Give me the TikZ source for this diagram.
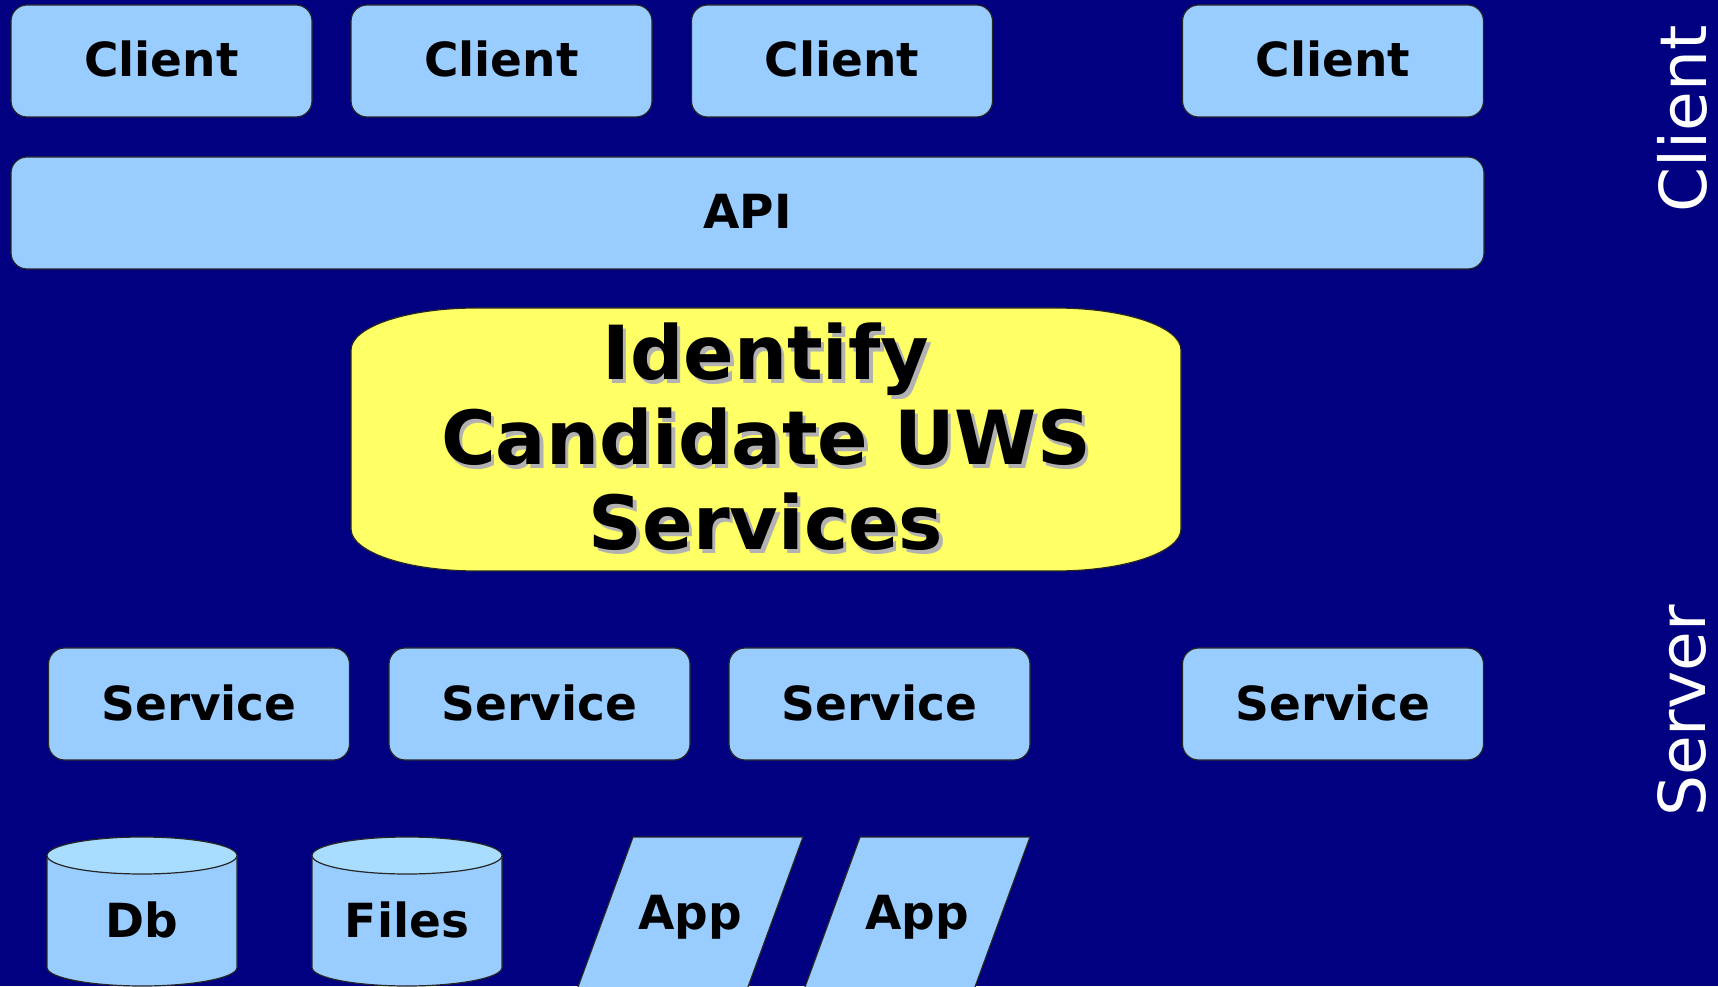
\documentclass[tikz,border=0pt]{standalone}
\usepackage{fontspec}
\setmainfont{DejaVu Sans}

\definecolor{navy}{HTML}{000080}
\definecolor{paleblue}{HTML}{99CCFF}
\definecolor{topblue}{HTML}{A8DDFF}
\definecolor{lemon}{HTML}{FFFF66}

\tikzset{
  tier/.style={draw=black!85, line width=0.6pt, fill=paleblue, rounded corners=8pt,
    inner sep=0pt, minimum width=150.5pt, minimum height=56pt,
    text height=16pt, text depth=0pt, font=\fontsize{23.5}{28}\selectfont\bfseries},
  store/.style={draw=black!85, line width=0.6pt, fill=paleblue},
  storetop/.style={draw=black!85, line width=0.6pt, fill=topblue},
  storetext/.style={inner sep=0pt, text height=16pt, text depth=0pt,
    font=\fontsize{23.5}{28}\selectfont\bfseries},
  bigtext/.style={align=center, inner sep=0pt, font=\fontsize{37.3}{42.5}\selectfont\bfseries},
  side/.style={rotate=90, text=white, inner sep=0pt, font=\fontsize{32.3}{38}\selectfont},
}

\begin{document}
\begin{tikzpicture}[x=0.5pt,y=0.5pt] % one unit = one pixel
\fill[navy] (0,0) rectangle (1718,986); % background
\clip (0,0) rectangle (1718,986);

% client tier
\node[tier] (client1) at (161.5,925) {Client};
\node[tier] (client2) at (501.5,925) {Client};
\node[tier] (client3) at (842,925) {Client};
\node[tier] (client4) at (1333,925) {Client};
\node[tier, minimum width=736.5pt] (api) at (747.5,773) {API};

% task
\filldraw[fill=lemon, draw=black!85, line width=0.6pt] (351,457) -- (351,636)
  arc[start angle=180, end angle=90, x radius=62.5pt, y radius=21pt] -- (1056,678)
  arc[start angle=90, end angle=0, x radius=62.5pt, y radius=21pt] -- (1181,457)
  arc[start angle=0, end angle=-90, x radius=62.5pt, y radius=21pt] -- (476,415)
  arc[start angle=270, end angle=180, x radius=62.5pt, y radius=21pt] -- cycle;
\node[bigtext, text=gray!60] (taskshadow) at (769.5,545.5) {Identify\\Candidate UWS\\Services}; % shadow
\node[bigtext] (task) at (766,549) {Identify\\Candidate UWS\\Services};

% server tier
\node[tier] (service1) at (199,282) {Service};
\node[tier] (service2) at (539.5,282) {Service};
\node[tier] (service3) at (879.5,282) {Service};
\node[tier] (service4) at (1333,282) {Service};

% resources
\filldraw[store] (47,130.5) -- (47,18.5)
  arc[start angle=180, end angle=360, x radius=47.5pt, y radius=9.25pt] -- (237,130.5) -- cycle;
\filldraw[storetop] (142,130.5) ellipse[x radius=47.5pt, y radius=9.25pt];
\node[storetext] (db) at (142,65) {Db};

\filldraw[store] (312,130.5) -- (312,18.5)
  arc[start angle=180, end angle=360, x radius=47.5pt, y radius=9.25pt] -- (502,130.5) -- cycle;
\filldraw[storetop] (407,130.5) ellipse[x radius=47.5pt, y radius=9.25pt];
\node[storetext] (files) at (407,65) {Files};

\filldraw[store] (633,149) -- (803,149) -- (741,-20) -- (571,-20) -- cycle;
\node[storetext] (app1) at (690,73) {App};
\filldraw[store] (860,149) -- (1030,149) -- (968,-20) -- (798,-20) -- cycle;
\node[storetext] (app2) at (917,73) {App};

% tier labels
\node[side] (clientlabel) at (1682,867) {Client};
\node[side] (serverlabel) at (1682,275) {Server};
\end{tikzpicture}
\end{document}
